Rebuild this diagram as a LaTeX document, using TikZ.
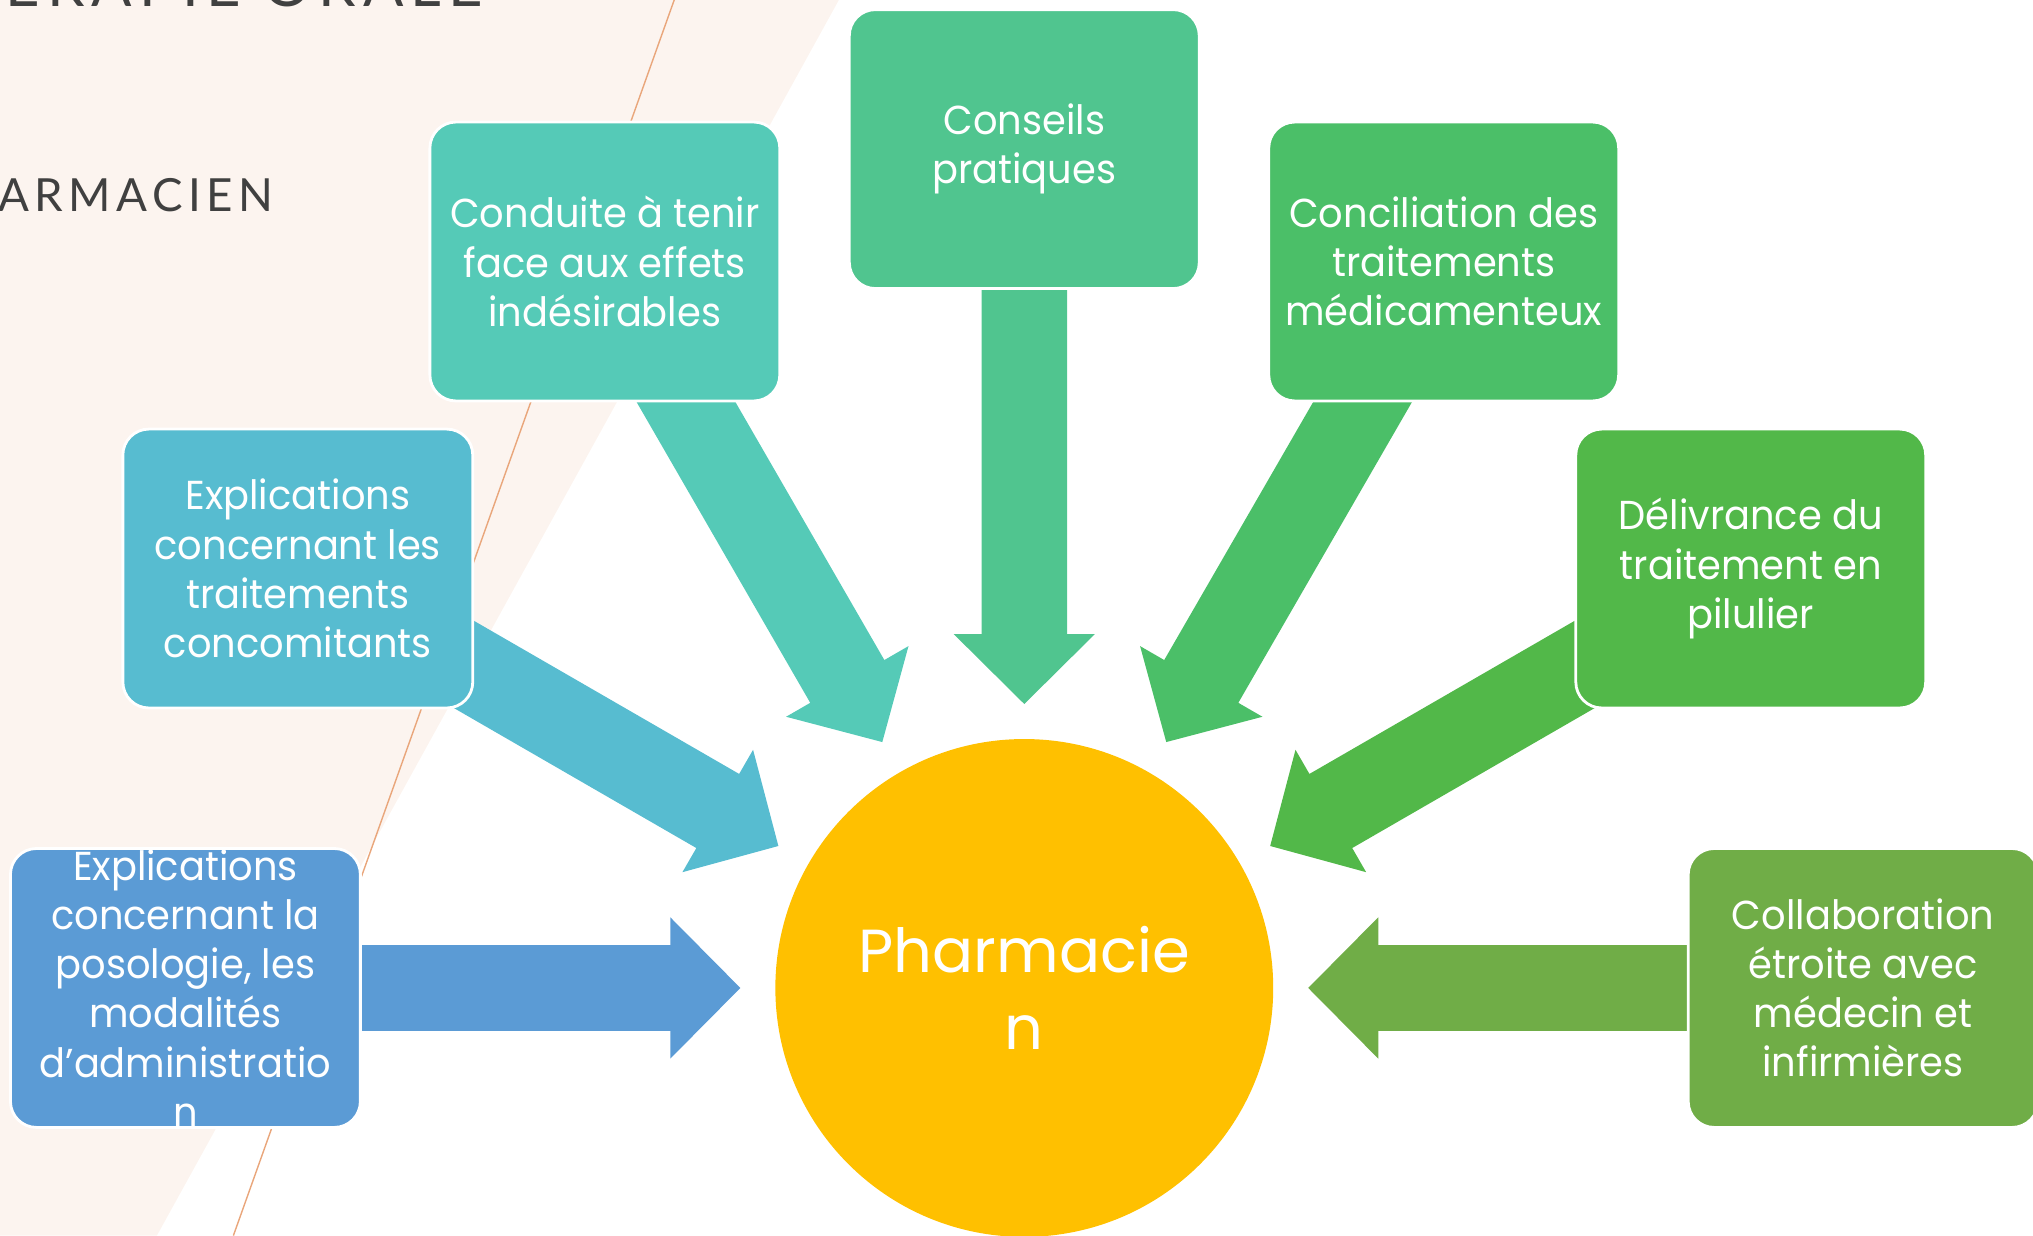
\documentclass[tikz,border=0pt]{standalone}
\usepackage{fontspec}
\usepackage{tikz}

\newfontfamily\boxfont[FakeStretch=0.95]{Poppins}
\newfontfamily\circfont{Poppins}
\newfontfamily\titlefont[LetterSpace=12]{Lato}

\definecolor{cream}{HTML}{FCF4EF}
\definecolor{rulecol}{HTML}{E9A67B}
\definecolor{titlegray}{HTML}{404040}
\definecolor{sun}{HTML}{FFC000}
\definecolor{cblue}{HTML}{5B9BD5}
\definecolor{ccyan}{HTML}{57BCD0}
\definecolor{cteal}{HTML}{55CAB7}
\definecolor{cmint}{HTML}{50C58F}
\definecolor{cgreen}{HTML}{4BBF68}
\definecolor{cleaf}{HTML}{52B849}
\definecolor{colive}{HTML}{70AD47}

\tikzset{
  box/.style={rectangle, rounded corners=0.26cm, draw=white, line width=0.8pt,
    text=white, align=center, inner sep=0pt, minimum width=3.5cm,
    minimum height=2.79cm, font=\boxfont\fontsize{11.5}{14}\selectfont},
  pics/blockarrow/.style={code={
    \fill (219,0) -- (273,54.5) -- (273,33) -- (620,33) -- (620,-33)
      -- (273,-33) -- (273,-54.5) -- cycle;}}
}

\begin{document}
\begin{tikzpicture}[x=0.012966cm, y=0.012966cm]
    \useasboundingbox (0,0) rectangle (1568,953);
    \clip (0,0) rectangle (1568,953);
    \fill[cream] (0,0) -- (0,953) -- (647,953) -- (121,0) -- cycle;
    \draw[rulecol, line width=0.4pt] (520,953) -- (180,0);
    \node[anchor=base east, inner sep=0pt, text=titlegray,
      font=\titlefont\fontsize{17}{20}\selectfont] (title) at (373,948) {ERAPIE ORALE};
    \node[anchor=base west, inner sep=0pt, text=titlegray,
      font=\titlefont\fontsize{13}{16}\selectfont] (subtitle) at (-2,789.5) {ARMACIEN};

    \node[circle, fill=sun, minimum size=4.98cm, inner sep=0pt, text=white, align=center,
      font=\circfont\fontsize{17.3}{22}\selectfont] (pharma) at (790,191) {Pharmacie\\n};

    \pic[rotate=180, fill=cblue] at (pharma.center) {blockarrow};
    \pic[rotate=150, fill=ccyan] at (pharma.center) {blockarrow};
    \pic[rotate=120, fill=cteal] at (pharma.center) {blockarrow};
    \pic[rotate=90, fill=cmint] at (pharma.center) {blockarrow};
    \pic[rotate=60, fill=cgreen] at (pharma.center) {blockarrow};
    \pic[rotate=30, fill=cleaf] at (pharma.center) {blockarrow};
    \pic[rotate=0, fill=colive] at (pharma.center) {blockarrow};

    \node[box, fill=cblue, inner ysep=-5mm] (posologie) at (143,191)
      {Explications\\concernant la\\posologie, les\\modalités\\d’administratio\\n};
    \node[box, fill=ccyan] (concomitants) at (229.7,514.5)
      {Explications\\concernant les\\traitements\\concomitants};
    \node[box, fill=cteal] (effets) at (466.5,751.3)
      {Conduite à tenir\\face aux effets\\indésirables};
    \node[box, fill=cmint] (conseils) at (790,838) {Conseils\\pratiques};
    \node[box, fill=cgreen] (conciliation) at (1113.5,751.3)
      {Conciliation des\\traitements\\médicamenteux};
    \node[box, fill=cleaf] (pilulier) at (1350.3,514.5)
      {Délivrance du\\traitement en\\pilulier};
    \node[box, fill=colive] (collab) at (1437,191)
      {Collaboration\\étroite avec\\médecin et\\infirmières};
\end{tikzpicture}
\end{document}
